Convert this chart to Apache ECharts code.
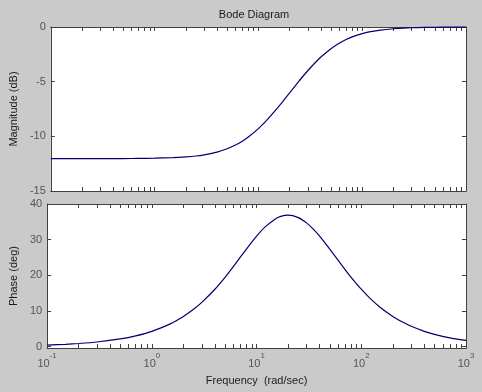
<!DOCTYPE html>
<html><head><meta charset="utf-8">
<script src="https://cdn.jsdelivr.net/npm/echarts@6/dist/echarts.min.js"></script>
<style>html,body{margin:0;padding:0;background:#cacaca}#c{width:482px;height:392px}</style>
</head><body><div id="c"></div>
<script>
// Frequencies (rad/sec) sampled along the curves
const freq = [0.1,0.15,0.2,0.3,0.5,0.7,1,1.5,2,2.5,3,4,5,6,7,8,10,12,15,17,20,25,30,35,40,50,60,70,80,100,120,150,200,250,300,400,500,700,1000];
// Magnitude (dB)
const magnitudeDb = [-12.04,-12.04,-12.04,-12.04,-12.03,-12.02,-12.00,-11.95,-11.88,-11.80,-11.69,-11.44,-11.14,-10.80,-10.44,-10.06,-9.29,-8.54,-7.49,-6.86,-6.02,-4.87,-3.98,-3.29,-2.75,-1.98,-1.48,-1.14,-0.90,-0.60,-0.43,-0.28,-0.16,-0.10,-0.07,-0.04,-0.03,-0.01,-0.01];
// Phase (deg)
const phaseDeg = [0.43,0.64,0.86,1.29,2.15,3.00,4.28,6.38,8.45,10.46,12.41,16.09,19.44,22.43,25.07,27.35,30.96,33.50,35.75,36.51,36.87,36.19,34.70,32.87,30.96,27.35,24.23,21.61,19.44,16.09,13.67,11.12,8.45,6.80,5.69,4.28,3.43,2.45,1.72];
// Tick labels
const decadeExponents = [-1,0,1,2,3];
const minorFreqs = [0.2,0.3,0.4,0.5,0.6,0.7,0.8,0.9,2,3,4,5,6,7,8,9,20,30,40,50,60,70,80,90,200,300,400,500,600,700,800,900];
const magTicks = [-15,-10,-5,0];
const phaseTicks = [0,10,20,30,40];

const FONT = '"Liberation Sans", Arial, Helvetica, sans-serif';
const AXC = '#404040';
const LBL = '#555555';
const xTickVals = decadeExponents.concat(minorFreqs.map(v => Math.log10(v)));

const chart = echarts.init(document.getElementById('c'), null, {renderer: 'canvas'});

function logDataAxis(grid) {
  return {type: 'log', logBase: 10, min: 0.1, max: 1000, gridIndex: grid, show: false};
}
function tickXAxis(grid, pos, withLabels) {
  const ax = {
    type: 'value', gridIndex: grid, position: pos, min: -1, max: 3,
    axisLine: {show: true, onZero: false, lineStyle: {color: AXC, width: 1}},
    axisTick: {show: true, inside: true, length: 4, customValues: xTickVals, lineStyle: {color: AXC}},
    splitLine: {show: false},
    axisLabel: {show: false}
  };
  if (withLabels) {
    ax.axisLabel = {
      show: true, customValues: decadeExponents, margin: 4,
      formatter: v => '{b|10}{s|' + Math.round(v) + '}',
      rich: {
        b: {fontSize: 11, fontFamily: FONT, color: LBL, lineHeight: 24},
        s: {fontSize: 8, fontFamily: FONT, color: LBL, lineHeight: 10, verticalAlign: 'top'}
      }
    };
    ax.name = 'Frequency  (rad/sec)';
    ax.nameLocation = 'middle';
    ax.nameGap = 27;
    ax.nameTextStyle = {color: '#1a1a1a', fontSize: 11, fontFamily: FONT};
  }
  return ax;
}
function yAx(grid, pos, min, max, ticks, name, gap) {
  const ax = {
    type: 'value', gridIndex: grid, position: pos, min: min, max: max,
    axisLine: {show: true, onZero: false, lineStyle: {color: AXC, width: 1}},
    axisTick: {show: true, inside: true, length: 4, customValues: ticks, lineStyle: {color: AXC}},
    splitLine: {show: false},
    axisLabel: {show: false}
  };
  if (pos === 'left') {
    ax.axisLabel = {show: true, customValues: ticks, margin: 5, fontSize: 11, fontFamily: FONT, color: LBL};
    ax.name = name;
    ax.nameLocation = 'middle';
    ax.nameRotate = 90;
    ax.nameGap = gap;
    ax.nameTextStyle = {color: '#1a1a1a', fontSize: 11, fontFamily: FONT};
  }
  return ax;
}

chart.setOption({
  animation: false,
  backgroundColor: '#cacaca',
  graphic: [{
    type: 'text', x: 254, y: 15,
    style: {text: 'Bode Diagram', textAlign: 'center', textVerticalAlign: 'middle', fontSize: 11, fontFamily: FONT, fill: '#1a1a1a'}
  }],
  grid: [
    {left: 44, right: 16, top: 27, height: 164, show: true, backgroundColor: '#ffffff', borderWidth: 0},
    {left: 44, right: 16, top: 204, height: 144, show: true, backgroundColor: '#ffffff', borderWidth: 0}
  ],
  xAxis: [
    logDataAxis(0), tickXAxis(0, 'bottom', false), tickXAxis(0, 'top', false),
    logDataAxis(1), tickXAxis(1, 'bottom', true), tickXAxis(1, 'top', false)
  ],
  yAxis: [
    yAx(0, 'left', -15, 0, magTicks, 'Magnitude (dB)', 30),
    yAx(0, 'right', -15, 0, magTicks),
    yAx(1, 'left', -0.4, 40, phaseTicks, 'Phase (deg)', 24),
    yAx(1, 'right', -0.4, 40, phaseTicks)
  ],
  series: [
    {type: 'line', xAxisIndex: 0, yAxisIndex: 0, data: freq.map((f, i) => [f, magnitudeDb[i]]),
     showSymbol: false, smooth: 0.2, lineStyle: {color: '#000070', width: 1.2}, clip: false},
    {type: 'line', xAxisIndex: 3, yAxisIndex: 2, data: freq.map((f, i) => [f, phaseDeg[i]]),
     showSymbol: false, smooth: 0.2, lineStyle: {color: '#000070', width: 1.2}, clip: false}
  ]
});
</script>
</body></html>
